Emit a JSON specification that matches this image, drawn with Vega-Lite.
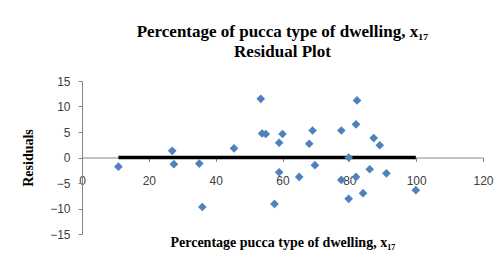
{
  "$schema": "https://vega.github.io/schema/vega-lite/v6.json",
  "autosize": "none",
  "width": 401,
  "height": 153,
  "padding": {"left": 82, "top": 81, "right": 21, "bottom": 34},
  "background": "white",
  "config": {
    "view": {"stroke": null},
    "axis": {"labelOverlap": false, "labelFlush": false, "grid": false}
  },
  "title": {
    "text": ["Percentage of pucca type of dwelling, x₁₇", "Residual Plot"],
    "font": "Liberation Serif",
    "fontSize": 17,
    "fontWeight": "bold",
    "color": "black",
    "lineHeight": 20,
    "anchor": "middle",
    "offset": 14
  },
  "datasets": {
    "points": [
      {"x": 10.9, "y": -1.8},
      {"x": 27.0, "y": 1.3},
      {"x": 27.5, "y": -1.3},
      {"x": 35.1, "y": -1.2},
      {"x": 36.0, "y": -9.7},
      {"x": 45.5, "y": 1.8},
      {"x": 53.5, "y": 11.5},
      {"x": 53.9, "y": 4.7},
      {"x": 55.0, "y": 4.6},
      {"x": 60.0, "y": 4.6},
      {"x": 59.0, "y": 2.9},
      {"x": 59.0, "y": -2.9},
      {"x": 57.6, "y": -9.1},
      {"x": 65.0, "y": -3.8},
      {"x": 68.0, "y": 2.7},
      {"x": 69.0, "y": 5.3},
      {"x": 69.7, "y": -1.5},
      {"x": 77.6, "y": 5.3},
      {"x": 77.6, "y": -4.4},
      {"x": 79.8, "y": 0.0},
      {"x": 79.8, "y": -8.1},
      {"x": 82.0, "y": -3.8},
      {"x": 82.0, "y": 6.5},
      {"x": 82.3, "y": 11.2},
      {"x": 84.1, "y": -7.0},
      {"x": 86.1, "y": -2.3},
      {"x": 87.3, "y": 3.8},
      {"x": 89.1, "y": 2.4},
      {"x": 91.1, "y": -3.1},
      {"x": 99.9, "y": -6.4}
    ],
    "zeroline": [
      {"x": 10.9, "y": 0},
      {"x": 99.9, "y": 0}
    ]
  },
  "encoding": {
    "x": {
      "field": "x", "type": "quantitative",
      "scale": {"domain": [0, 120], "nice": false, "zero": false},
      "axis": {
        "values": [0, 20, 40, 60, 80, 100, 120],
        "offset": -76.5,
        "domainColor": "#868686",
        "tickColor": "#868686",
        "tickSize": 4,
        "labelPadding": 14,
        "labelFont": "Liberation Sans",
        "labelFontSize": 12,
        "labelColor": "#404040",
        "title": "Percentage pucca type of dwelling, x₁₇",
        "titleFont": "Liberation Serif",
        "titleFontSize": 14,
        "titleFontWeight": "bold",
        "titleColor": "black",
        "titlePadding": 49
      }
    },
    "y": {
      "field": "y", "type": "quantitative",
      "scale": {"domain": [-15, 15], "nice": false, "zero": false},
      "axis": {
        "values": [-15, -10, -5, 0, 5, 10, 15],
        "domainColor": "#868686",
        "tickColor": "#868686",
        "tickSize": 4,
        "labelPadding": 8,
        "labelFont": "Liberation Sans",
        "labelFontSize": 12,
        "labelColor": "#404040",
        "title": "Residuals",
        "titleFont": "Liberation Serif",
        "titleFontSize": 14,
        "titleFontWeight": "bold",
        "titleColor": "black",
        "titlePadding": 14
      }
    }
  },
  "layer": [
    {
      "data": {"name": "zeroline"},
      "mark": {"type": "line", "color": "black", "strokeWidth": 3.5}
    },
    {
      "data": {"name": "points"},
      "mark": {"type": "point", "shape": "diamond", "filled": true, "color": "#4F81BD", "size": 75, "opacity": 1}
    }
  ]
}
